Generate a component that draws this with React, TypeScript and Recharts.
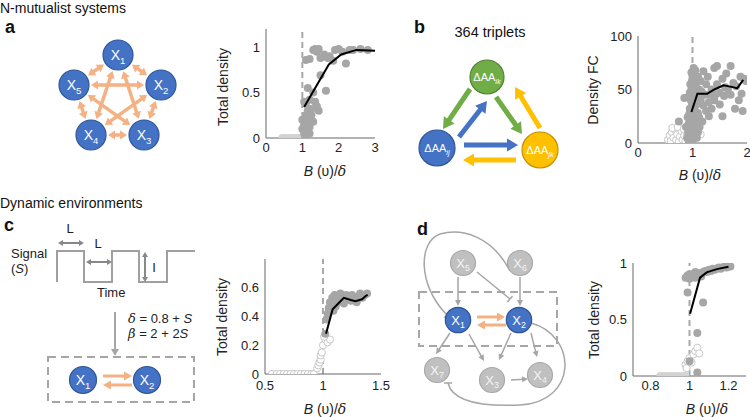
import React from 'react';
import { ComposedChart, Scatter, Line, XAxis, YAxis, ReferenceLine } from 'recharts';

const FONT = '"Liberation Sans", Arial, Helvetica, sans-serif';
const DARK = '#a6a6a6';
const LIGHT = '#d3d3d3';
const ORANGE = '#f4b183';
const GREY_LINE = '#a6a6a6';

type Pt = [number, number];

// ---- panel a: N-mutualist systems
const aZero: Pt[] = [[0.45, 0], [0.5, 0], [0.55, 0], [0.58, 0], [0.62, 0], [0.66, 0], [0.7, 0], [0.73, 0], [0.77, 0], [0.8, 0], [0.84, 0], [0.88, 0], [0.91, 0], [0.95, 0], [0.98, 0]];
const aPoints: Pt[] = [
  [1.1, 0.86], [1.2, 0.87], [1.3, 0.97], [1.35, 0.98], [1.45, 0.98], [1.4, 0.95], [1.6, 0.92], [1.7, 0.88], [1.75, 0.9],
  [1.85, 0.85], [1.9, 0.97], [2.0, 0.98], [2.1, 0.95], [2.2, 0.82], [2.3, 0.97], [2.4, 0.97], [2.6, 0.98], [2.8, 0.97], [1.5, 0.88],
  [1.5, 0.69], [1.65, 0.52], [1.15, 0.55], [1.3, 0.5], [1.05, 0.4], [1.1, 0.38], [1.2, 0.42], [1.35, 0.4], [1.4, 0.35], [1.25, 0.32], [1.45, 0.3],
  [1.0, 0.2], [1.05, 0.15], [1.1, 0.25], [1.15, 0.3], [1.2, 0.22], [1.1, 0.1], [1.05, 0.05], [1.15, 0.18], [1.3, 0.18], [1.2, 0.12],
  [1.08, 0.02], [1.2, 0.05], [1.0, 0.1], [1.25, 0.25],
];
const aLine: Pt[] = [[1.05, 0.34], [1.73, 0.81], [2.07, 0.92], [2.49, 0.97], [3.0, 0.96]];

// ---- panel b: 364 triplets
const bOpen: Pt[] = [
  [0.55, 3], [0.58, 7], [0.6, 2], [0.62, 10], [0.65, 5], [0.68, 12], [0.7, 3], [0.72, 8], [0.75, 1], [0.77, 6], [0.8, 11],
  [0.82, 3], [0.85, 7], [0.87, 2], [0.9, 9], [0.93, 4], [0.95, 1], [0.98, 6], [1.15, 8], [0.63, 14], [0.73, 15], [0.84, 13],
];
const bLight: Pt[] = [[0.75, 3], [0.8, 5], [0.85, 2], [0.88, 6], [0.9, 1], [0.92, 4], [0.95, 7], [0.97, 3], [0.78, 8], [0.7, 1]];
const bPoints: Pt[] = [
  [0.9, 5], [0.92, 10], [0.95, 8], [0.97, 12], [1.0, 6], [1.02, 10], [0.88, 15], [0.93, 18], [0.96, 20], [0.99, 16], [1.03, 18],
  [1.06, 14], [0.91, 24], [0.94, 27], [0.98, 25], [1.01, 28], [1.04, 24], [1.08, 22], [0.95, 32], [0.99, 35], [1.02, 33], [1.05, 30],
  [1.1, 28], [0.97, 40], [1.0, 42], [1.03, 38], [1.07, 36], [0.92, 43], [0.95, 47], [0.98, 50], [1.01, 48], [1.04, 45], [1.08, 44],
  [0.96, 55], [0.99, 58], [1.02, 55], [1.05, 52], [1.0, 62], [1.03, 65], [1.06, 60], [0.98, 66], [1.02, 70], [1.05, 68], [1.09, 57],
  [1.12, 50], [1.15, 40], [1.2, 35], [1.25, 30], [1.3, 25], [1.18, 20], [1.13, 15], [0.75, 20], [0.85, 42], [1.1, 10], [1.0, 2],
  [0.93, 2], [1.08, 5], [1.1, 62], [1.15, 58], [1.2, 67], [1.25, 55], [1.3, 45], [1.35, 50], [1.28, 62], [1.4, 40], [1.45, 55],
  [1.5, 47], [1.4, 70], [1.45, 72], [1.55, 60], [1.6, 52], [1.65, 50], [1.7, 45], [1.62, 65], [1.75, 56], [1.8, 53], [1.85, 40],
  [1.9, 46], [1.95, 60], [1.88, 62], [1.78, 32], [1.92, 30], [1.7, 72], [1.98, 58], [1.5, 36], [1.35, 32], [1.22, 45], [1.17, 48],
  [1.42, 45], [1.55, 25], [1.3, 38], [1.12, 24], [1.58, 44],
];
const bLine: Pt[] = [[0.98, 29], [1.09, 46], [1.27, 46], [1.4, 50], [1.57, 54], [1.76, 52], [1.82, 51], [1.93, 59]];

// ---- panel c: dynamic environments
const cOpen: Pt[] = [
  [0.56, 0], [0.6, 0], [0.63, 0], [0.66, 0], [0.69, 0], [0.72, 0], [0.75, 0], [0.78, 0], [0.81, 0], [0.84, 0], [0.87, 0], [0.9, 0], [0.92, 0],
  [0.95, 0.04], [0.96, 0.06], [0.97, 0.08], [0.98, 0.1], [0.98, 0.13], [0.99, 0.15], [1.0, 0.2], [1.02, 0.24], [1.04, 0.22], [1.06, 0.24], [1.01, 0.26],
];
const cPoints: Pt[] = [
  [1.02, 0.28], [1.03, 0.38], [1.05, 0.46], [1.06, 0.5], [1.07, 0.48], [1.08, 0.53], [1.09, 0.44], [1.1, 0.55], [1.12, 0.52],
  [1.13, 0.5], [1.15, 0.56], [1.17, 0.54], [1.19, 0.52], [1.2, 0.55], [1.22, 0.53], [1.24, 0.51], [1.25, 0.55], [1.27, 0.52],
  [1.29, 0.5], [1.3, 0.54], [1.32, 0.56], [1.34, 0.53], [1.36, 0.55], [1.38, 0.56], [1.04, 0.42], [1.11, 0.47], [1.18, 0.49],
];
const cLine: Pt[] = [[1.026, 0.28], [1.083, 0.45], [1.155, 0.51], [1.18, 0.53], [1.24, 0.515], [1.28, 0.507], [1.336, 0.52], [1.37, 0.544], [1.385, 0.55]];

// ---- panel d: network motif
const dZero: Pt[] = [[0.85, 0], [0.87, 0], [0.89, 0], [0.91, 0], [0.93, 0], [0.95, 0], [0.97, 0], [0.98, 0]];
const dOpen: Pt[] = [[0.98, 0.1], [0.99, 0.13], [1.0, 0.16], [1.01, 0.12], [1.02, 0.19], [1.03, 0.22], [1.04, 0.25], [1.05, 0.2], [0.985, 0.07]];
const dPoints: Pt[] = [
  [0.98, 0.87], [0.99, 0.89], [1.0, 0.86], [1.01, 0.88], [1.02, 0.9], [1.03, 0.87], [1.04, 0.89], [1.05, 0.91], [1.06, 0.9],
  [1.07, 0.92], [1.08, 0.93], [1.09, 0.92], [1.1, 0.94], [1.11, 0.93], [1.12, 0.95], [1.13, 0.94], [1.14, 0.95], [1.15, 0.96],
  [1.16, 0.95], [1.17, 0.96], [1.18, 0.97], [1.19, 0.96], [1.2, 0.97], [1.21, 0.97], [0.99, 0.74], [1.07, 0.65], [1.04, 0.38],
  [1.0, 0.13], [1.04, 0.03], [1.0, 0.9], [1.03, 0.92], [1.06, 0.88],
];
const dLine: Pt[] = [[1.003, 0.55], [1.054, 0.87], [1.088, 0.917], [1.14, 0.946], [1.2, 0.967]];

const toXY = (pts: Pt[]) => pts.map(([x, y]) => ({ x, y }));

const filledDot = (color: string) => (p: any) => <circle cx={p.cx} cy={p.cy} r={4} fill={color} />;
const openDot = (p: any) => <circle cx={p.cx} cy={p.cy} r={3.6} fill="#fff" stroke="#c8c8c8" strokeWidth={1} />;

const tickStyle = { fill: '#222', fontSize: 13, fontFamily: FONT };

interface PanelProps {
  box: [number, number, number, number];
  xDomain: [number, number];
  yDomain: [number, number];
  xTicks: number[];
  yTicks: number[];
  xGap?: number;
  light?: Pt[];
  open?: Pt[];
  dark: Pt[];
  line: Pt[];
}

// plot area is placed by its absolute box [left, top, right, bottom]
const Panel: React.FC<PanelProps> = ({ box, xDomain, yDomain, xTicks, yTicks, xGap = 3, light, open, dark, line }) => {
  const [l, t, r, b] = box;
  return (
    <div style={{ position: 'absolute', left: l - 50, top: t - 10 }}>
      <ComposedChart width={r - l + 60} height={b - t + 40} margin={{ top: 10, right: 10, left: 10, bottom: 0 }}>
        <XAxis type="number" dataKey="x" domain={xDomain} ticks={xTicks} allowDataOverflow height={30}
          tickLine={false} tickSize={2} tickMargin={xGap} stroke="#666" tick={tickStyle} />
        <YAxis type="number" dataKey="y" domain={yDomain} ticks={yTicks} allowDataOverflow width={40}
          tickLine={false} tickSize={2} tickMargin={4} stroke="#666" tick={tickStyle} />
        <ReferenceLine x={1} stroke="#a8a8a8" strokeWidth={2} strokeDasharray="6 4" />
        {light && <Scatter data={toXY(light)} dataKey="y" shape={filledDot(LIGHT)} isAnimationActive={false} />}
        {open && <Scatter data={toXY(open)} dataKey="y" shape={openDot} isAnimationActive={false} />}
        <Scatter data={toXY(dark)} dataKey="y" shape={filledDot(DARK)} isAnimationActive={false} />
        <Line data={toXY(line)} dataKey="y" type="linear" stroke="#000" strokeWidth={2} dot={false}
          isAnimationActive={false} zIndex={900} />
      </ComposedChart>
    </div>
  );
};

// ---------- diagram helpers ----------
interface ArrowProps { x1: number; y1: number; x2: number; y2: number; w: number; hl: number; hw: number; color: string; both?: boolean }

const Arrow: React.FC<ArrowProps> = ({ x1, y1, x2, y2, w, hl, hw, color, both }) => {
  const len = Math.hypot(x2 - x1, y2 - y1);
  const ux = (x2 - x1) / len, uy = (y2 - y1) / len;
  const px = -uy, py = ux;
  const head = (tx: number, ty: number, dx: number, dy: number) => {
    const bx = tx - dx * hl, by = ty - dy * hl;
    return `${tx},${ty} ${bx + (px * hw) / 2},${by + (py * hw) / 2} ${bx - (px * hw) / 2},${by - (py * hw) / 2}`;
  };
  const sx = both ? x1 + ux * hl * 0.8 : x1, sy = both ? y1 + uy * hl * 0.8 : y1;
  const ex = x2 - ux * hl * 0.8, ey = y2 - uy * hl * 0.8;
  return (
    <g>
      <line x1={sx} y1={sy} x2={ex} y2={ey} stroke={color} strokeWidth={w} />
      <polygon points={head(x2, y2, ux, uy)} fill={color} />
      {both && <polygon points={head(x1, y1, -ux, -uy)} fill={color} />}
    </g>
  );
};

const TBar: React.FC<{ x1: number; y1: number; x2: number; y2: number }> = ({ x1, y1, x2, y2 }) => {
  const len = Math.hypot(x2 - x1, y2 - y1);
  const px = -(y2 - y1) / len, py = (x2 - x1) / len;
  return (
    <g stroke={GREY_LINE} strokeWidth={1.5}>
      <line x1={x1} y1={y1} x2={x2} y2={y2} />
      <line x1={x2 + px * 4} y1={y2 + py * 4} x2={x2 - px * 4} y2={y2 - py * 4} />
    </g>
  );
};

interface NodeProps { cx: number; cy: number; r: number; fill: string; stroke: string; label: string; sub: string; size?: number; color?: string }

const Node: React.FC<NodeProps> = ({ cx, cy, r, fill, stroke, label, sub, size = 14, color = '#fff' }) => (
  <g>
    <circle cx={cx} cy={cy} r={r} fill={fill} stroke={stroke} strokeWidth={1.2} />
    <text x={cx} y={cy + size * 0.36} textAnchor="middle" fill={color} fontSize={size} fontFamily={FONT}>
      {label}
      <tspan fontSize={size * 0.68} dy={size * 0.25} fontStyle={label.startsWith('Δ') ? 'italic' : 'normal'}>{sub}</tspan>
    </text>
  </g>
);

const BLUE = { fill: '#4472c4', stroke: '#2f5597' };
const GREYN = { fill: '#c0c0c0', stroke: '#a8a8a8' };

const pentagon: [string, number, number][] = [['1', 118, 55], ['2', 161, 85], ['3', 144, 135], ['4', 91, 135], ['5', 74, 85]];

const PentagonArrows = () => {
  const out: React.ReactNode[] = [];
  const r = 15 + 2;
  for (let i = 0; i < pentagon.length; i++) {
    for (let j = i + 1; j < pentagon.length; j++) {
      const [, ax, ay] = pentagon[i];
      const [, bx, by] = pentagon[j];
      const len = Math.hypot(bx - ax, by - ay);
      const ux = (bx - ax) / len, uy = (by - ay) / len;
      out.push(<Arrow key={`${i}-${j}`} x1={ax + ux * r} y1={ay + uy * r} x2={bx - ux * r} y2={by - uy * r} w={3.5} hl={7} hw={9} color={ORANGE} both />);
    }
  }
  return <g>{out}</g>;
};

const AxisLabels: React.FC<{ yText: string; yx: number; yy: number; xx: number; xy: number }> = ({ yText, yx, yy, xx, xy }) => (
  <g fontFamily={FONT} fill="#222">
    <text x={yx} y={yy} textAnchor="middle" fontSize={14} transform={`rotate(-90 ${yx} ${yy})`} dy={5}>{yText}</text>
    <text x={xx} y={xy} textAnchor="middle" fontSize={14}>
      <tspan fontStyle="italic">B</tspan> (υ)/<tspan fontStyle="italic" fontFamily="DejaVu Serif">δ</tspan>
    </text>
  </g>
);

export default function App() {
  return (
    <div style={{ position: 'absolute', left: 0, top: 0, width: 750, height: 417, overflow: 'hidden', background: '#fff', fontFamily: FONT }}>
      <Panel box={[266, 29, 375, 138]} xDomain={[0, 3]} yDomain={[0, 1.2]} xTicks={[0, 1, 2, 3]} yTicks={[0, 0.5, 1]}
        light={aZero} dark={aPoints} line={aLine} />
      <Panel box={[638, 36, 747, 143]} xDomain={[0, 2]} yDomain={[0, 100]} xTicks={[0, 1, 2]} yTicks={[0, 50, 100]}
        light={bLight} open={bOpen} dark={bPoints} line={bLine} />
      <Panel box={[265, 259, 381, 374]} xDomain={[0.5, 1.5]} yDomain={[0, 0.8]} xTicks={[0.5, 1, 1.5]} yTicks={[0, 0.2, 0.4, 0.6]}
        xGap={5} open={cOpen} dark={cPoints} line={cLine} />
      <Panel box={[633, 263, 746, 376]} xDomain={[0.71, 1.29]} yDomain={[0, 1]} xTicks={[0.8, 1, 1.2]} yTicks={[0, 0.5, 1]}
        light={dZero} open={dOpen} dark={dPoints} line={dLine} />

      <svg width={750} height={417} style={{ position: 'absolute', left: 0, top: 0, pointerEvents: 'none' }}>
        {/* headings */}
        <g fontFamily={FONT} fill="#111">
          <text x={0} y={13} fontSize={14}>N-mutualist systems</text>
          <text x={0} y={208} fontSize={14}>Dynamic environments</text>
          <text x={5} y={33} fontSize={18} fontWeight="bold">a</text>
          <text x={414} y={33} fontSize={18} fontWeight="bold">b</text>
          <text x={4} y={231} fontSize={18} fontWeight="bold">c</text>
          <text x={417} y={235} fontSize={18} fontWeight="bold">d</text>
          <text x={490} y={37} fontSize={14.5} textAnchor="middle">364 triplets</text>
        </g>

        <AxisLabels yText="Total density" yx={223} yy={87} xx={325} xy={176} />
        <AxisLabels yText="Density FC" yx={593} yy={90} xx={700} xy={180} />
        <AxisLabels yText="Total density" yx={222} yy={317} xx={325} xy={414} />
        <AxisLabels yText="Total density" yx={594} yy={320} xx={707} xy={414} />

        {/* a: pentagon of mutualists */}
        <PentagonArrows />
        {pentagon.map(([s, x, y]) => <Node key={s} cx={x} cy={y} r={15} {...BLUE} label="X" sub={s} />)}

        {/* b: triplet */}
        <Arrow x1={470} y1={89} x2={443} y2={129} w={5} hl={11} hw={13} color="#70ad47" />
        <Arrow x1={459} y1={137} x2={487} y2={101} w={5} hl={11} hw={13} color="#4472c4" />
        <Arrow x1={496} y1={97} x2={522} y2={134} w={5} hl={11} hw={13} color="#70ad47" />
        <Arrow x1={540} y1={128} x2={515} y2={87} w={5} hl={11} hw={13} color="#ffc000" />
        <Arrow x1={464} y1={145} x2={518} y2={145} w={5} hl={11} hw={13} color="#4472c4" />
        <Arrow x1={516} y1={160} x2={463} y2={160} w={5} hl={11} hw={13} color="#ffc000" />
        <Node cx={487} cy={77} r={17} fill="#70ad47" stroke="#548235" label="ΔAA" sub="ik" size={11} />
        <Node cx={437} cy={148} r={18} fill="#4472c4" stroke="#2f5597" label="ΔAA" sub="ij" size={11} />
        <Node cx={540} cy={150} r={18} fill="#ffc000" stroke="#c09000" label="ΔAA" sub="jk" size={11} />

        {/* c: signal */}
        <polyline points="57,282 57,251 84,251 84,282 112,282 112,251 139,251 139,282 167,282 167,251 195,251"
          fill="none" stroke="#a0a0a0" strokeWidth={2} />
        <Arrow x1={58} y1={243} x2={84} y2={243} w={2} hl={5} hw={6} color="#888" both />
        <Arrow x1={86} y1={262} x2={112} y2={262} w={2} hl={5} hw={6} color="#888" both />
        <Arrow x1={145} y1={252} x2={145} y2={282} w={2} hl={5} hw={6} color="#888" both />
        <g fontFamily={FONT} fill="#222" fontSize={13}>
          <text x={70} y={233} textAnchor="middle">L</text>
          <text x={98} y={248} textAnchor="middle">L</text>
          <text x={154} y={272} textAnchor="middle">I</text>
          <text x={11} y={258}>Signal</text>
          <text x={11} y={273}>(<tspan fontStyle="italic">S</tspan>)</text>
          <text x={97} y={297}>Time</text>
          <text x={128} y={323}><tspan fontStyle="italic" fontFamily="DejaVu Serif">δ</tspan> = 0.8 + <tspan fontStyle="italic">S</tspan></text>
          <text x={128} y={338}><tspan fontStyle="italic" fontFamily="DejaVu Serif">β</tspan> = 2 + 2<tspan fontStyle="italic">S</tspan></text>
        </g>
        <Arrow x1={115} y1={312} x2={115} y2={356} w={2} hl={7} hw={8} color="#a6a6a6" />
        <rect x={48} y={357} width={146} height={45} fill="none" stroke="#a6a6a6" strokeWidth={2} strokeDasharray="8 5" />
        <Arrow x1={103} y1={376} x2={132} y2={376} w={3} hl={8} hw={9} color={ORANGE} />
        <Arrow x1={132} y1={385} x2={103} y2={385} w={3} hl={8} hw={9} color={ORANGE} />
        <Node cx={83} cy={380} r={13.5} {...BLUE} label="X" sub="1" />
        <Node cx={147} cy={380} r={13.5} {...BLUE} label="X" sub="2" />

        {/* d: regulatory network */}
        <rect x={419} y={292} width={138} height={54} fill="none" stroke="#a6a6a6" strokeWidth={2} strokeDasharray="8 5" />
        <path d="M 510 271 C 492 236, 462 228, 440 234 C 418 242, 418 285, 446 314" fill="none" stroke={GREY_LINE} strokeWidth={1.5} />
        <TBar x1={446} y1={314} x2={447} y2={315} />
        <path d="M 531 323 C 578 336, 578 402, 520 405 C 478 407, 452 400, 448 383" fill="none" stroke={GREY_LINE} strokeWidth={1.5} />
        <TBar x1={448} y1={384} x2={448} y2={383} />
        <TBar x1={477} y1={272} x2={510} y2={299} />
        <Arrow x1={458} y1={277} x2={458} y2={306} w={1.5} hl={6} hw={6} color={GREY_LINE} />
        <Arrow x1={520} y1={277} x2={520} y2={306} w={1.5} hl={6} hw={6} color={GREY_LINE} />
        <Arrow x1={450} y1={333} x2={436} y2={354} w={1.5} hl={6} hw={6} color={GREY_LINE} />
        <Arrow x1={469} y1={334} x2={484} y2={361} w={1.5} hl={6} hw={6} color={GREY_LINE} />
        <Arrow x1={511} y1={333} x2={499} y2={360} w={1.5} hl={6} hw={6} color={GREY_LINE} />
        <Arrow x1={531} y1={333} x2={537} y2={357} w={1.5} hl={6} hw={6} color={GREY_LINE} />
        <Arrow x1={511} y1={380} x2={528} y2={379} w={1.5} hl={6} hw={6} color={GREY_LINE} />
        <Arrow x1={477} y1={317} x2={505} y2={317} w={3} hl={8} hw={9} color={ORANGE} />
        <Arrow x1={506} y1={325} x2={477} y2={325} w={3} hl={8} hw={9} color={ORANGE} />
        <Node cx={463} cy={263} r={12.5} {...GREYN} label="X" sub="5" size={13} color="#f4f4f4" />
        <Node cx={520} cy={263} r={12.5} {...GREYN} label="X" sub="6" size={13} color="#f4f4f4" />
        <Node cx={437} cy={370} r={12.5} {...GREYN} label="X" sub="7" size={13} color="#f4f4f4" />
        <Node cx={492} cy={380} r={12.5} {...GREYN} label="X" sub="3" size={13} color="#f4f4f4" />
        <Node cx={540} cy={375} r={12.5} {...GREYN} label="X" sub="4" size={13} color="#f4f4f4" />
        <Node cx={458} cy={320} r={12.7} {...BLUE} label="X" sub="1" size={13} />
        <Node cx={519} cy={320} r={12.7} {...BLUE} label="X" sub="2" size={13} />
      </svg>
    </div>
  );
}
